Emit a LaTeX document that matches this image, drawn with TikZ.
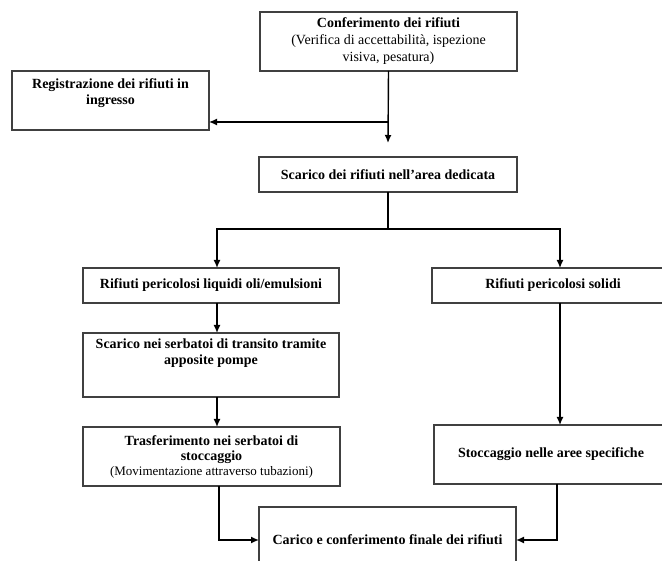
\documentclass[tikz,border=0pt]{standalone}
\usepackage{fontspec}
\setmainfont{Liberation Serif}
\usetikzlibrary{arrows.meta}
\begin{document}
\begin{tikzpicture}[x=1pt,y=-1pt,
  box/.style={draw=black!75, line width=1.1pt, rectangle, inner sep=0pt, outer sep=0pt, align=center,
     font=\fontsize{14}{17}\selectfont},
  txt/.style={inner sep=0pt, align=center, font=\fontsize{14}{16}\selectfont},
  conn/.style={line width=1.4pt, black},
  arr/.style={conn, -{Latex[length=8pt,width=7pt]}}]
\useasboundingbox (0,0) rectangle (662,561);
\clip (0,0) rectangle (662,561);
\fill[white] (0,0) rectangle (662,561);

\node[box, minimum width=257pt, minimum height=59pt] (c1) at (388.5,41.5)
  {\textbf{Conferimento dei rifiuti}\\(Verifica di accettabilità, ispezione\\visiva, pesatura)};
\node[box, minimum width=197pt, minimum height=59pt] (reg) at (110.5,100.5) {};
\node[txt, anchor=north] (regt) at ([yshift=-7pt]reg.north) {\textbf{Registrazione dei rifiuti in}\\\textbf{ingresso}};
\node[box, minimum width=258pt, minimum height=35pt] (scar) at (388,174.5) {\textbf{Scarico dei rifiuti nell’area dedicata}};
\node[box, minimum width=256pt, minimum height=35pt] (liq) at (211,285.5) {\textbf{Rifiuti pericolosi liquidi oli/emulsioni}};
\node[box, minimum width=242pt, minimum height=35pt] (sol) at (553,285.5) {\textbf{Rifiuti pericolosi solidi}};
\node[box, minimum width=256pt, minimum height=64pt] (serb) at (211,365) {};
\node[txt, anchor=north] (serbt) at ([yshift=-6pt]serb.north) {\textbf{Scarico nei serbatoi di transito tramite}\\\textbf{apposite pompe}};
\node[box, minimum width=257pt, minimum height=59pt, font=\fontsize{14}{15}\selectfont] (tras) at (211.5,456.5)
  {\textbf{Trasferimento nei serbatoi di}\\\textbf{stoccaggio}\\{\fontsize{13}{15}\selectfont(Movimentazione attraverso tubazioni)}};
\node[box, minimum width=234pt, minimum height=59pt] (stoc) at (551,454.5) {\textbf{Stoccaggio nelle aree specifiche}};
\node[box, minimum width=257pt, minimum height=66pt] (car) at (387.5,540) {};
\node[txt] (cart) at (387.5,540) {\textbf{Carico e conferimento finale dei rifiuti}};

\coordinate (br1) at (388,122);
\coordinate (split) at (388,229);
\draw[arr] (c1.south) -- ([yshift=14pt]scar.north);
\draw[arr] (br1) -- (br1 -| reg.east);
\draw[conn] (scar.south) -- (split);
\draw[arr] (split) -| ([xshift=6pt]liq.north);
\draw[arr] (split) -| ([xshift=7pt]sol.north);
\draw[arr] ([xshift=6pt]liq.south) -- ([xshift=6pt]serb.north);
\draw[arr] ([xshift=6pt]serb.south) -- ([xshift=6pt]serb.south |- tras.north);
\draw[arr] ([xshift=7pt]sol.south) -- ([xshift=7pt]sol.south |- stoc.north);
\draw[arr] ([xshift=7.5pt]tras.south) |- (car.west);
\draw[arr] ([xshift=6pt]stoc.south) |- (car.east);
\end{tikzpicture}
\end{document}
